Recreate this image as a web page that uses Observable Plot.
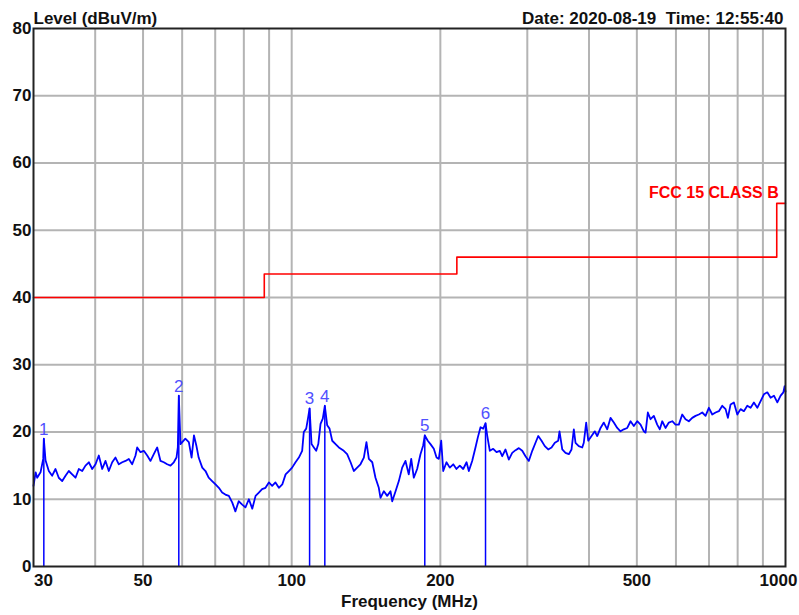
<!DOCTYPE html>
<html><head><meta charset="utf-8">
<script src="https://cdn.jsdelivr.net/npm/d3@7"></script>
<script src="https://cdn.jsdelivr.net/npm/@observablehq/plot@0.6"></script>
<style>body{margin:0;background:#fff;} svg{display:block}</style>
</head><body><div id="chart"></div>
<script>
// Measured trace (MHz, dBuV/m)
const freq = [
30.0,30.3,30.52,31.0,31.39,31.48,31.73,32.22,32.73,33.24,33.75,34.30,34.83,35.37,35.93,36.49,37.06,37.65,38.23,38.83,39.45,40.06,40.68,41.33,41.97,42.62,43.30,43.97,44.66,45.37,46.07,46.79,47.53,48.27,48.65,49.41,50.18,50.98,51.77,52.57,53.41,54.24,55.08,55.96,56.83,57.71,58.44,58.80,59.07,59.54,
60.9,61.9,62.7,63.4,64.1,64.8,65.9,66.9,67.9,69.0,70.1,71.2,72.3,73.4,74.6,75.8,76.9,78.1,79.4,80.6,81.9,83.2,84.5,85.8,87.1,88.5,89.9,91.3,92.7,94.2,95.7,97.2,98.7,100.2,101.8,103.4,105.0,105.8,107.0,108.0,108.7,109.7,110.9,112.1,113.2,114.4,115.6,116.7,118.0,119.3,120.8,122.7,124.6,
127.5,129.5,131.6,133.6,135.7,137.8,140.0,141.7,143.3,145.6,147.8,150.1,151.3,153.7,156.1,158.5,159.8,162.3,164.8,167.4,170.0,172.6,174.6,176.7,179.5,182.3,184.6,186.0,188.6,191.0,194.0,196.5,198.6,200.8,202.7,205.8,209.0,212.4,215.6,219.0,222.5,226.0,228.4,232.0,235.6,238.2,241.2,244.3,246.9,248.8,251.9,255.9,259.9,263.9,
266.9,271.0,275.2,279.6,284.0,288.4,293.0,297.5,302.1,307.0,311.7,315.7,320.6,325.5,330.7,335.9,341.1,346.5,348.6,353.1,358.5,364.1,368.7,372.7,375.6,381.4,387.6,390.4,394.8,398.6,404.8,411.0,415.6,422.1,428.6,435.5,442.2,449.1,456.3,463.3,470.5,478.1,485.5,493.0,500.9,508.7,516.6,
520.7,526.3,532.9,541.2,549.8,556.5,562.8,571.5,580.4,589.7,598.8,608.1,617.8,627.4,637.1,647.3,657.4,667.6,678.3,688.8,699.5,710.7,721.7,733.0,744.7,756.3,764.4,774.1,786.1,798.7,811.0,823.6,836.8,849.8,863.0,876.8,890.4,904.2,918.7,933.0,947.5,962.6,977.6,990.0,995.9,1000
];
const level = [
12.0,14.0,13.2,14.0,16.0,19.0,15.8,14.2,13.5,14.5,13.2,12.7,13.5,14.2,13.7,13.2,14.5,14.2,15.0,15.5,14.5,15.2,16.5,14.5,15.7,14.2,15.5,16.2,15.2,15.5,15.7,16.0,15.2,16.5,17.7,17.0,17.2,16.5,15.7,16.7,17.7,15.7,15.5,15.2,15.0,15.5,16.2,17.7,25.4,18.2,
19.0,18.5,16.2,19.5,18.0,16.2,14.7,14.2,13.2,12.7,12.2,11.7,11.0,10.7,10.5,9.5,8.2,9.7,9.2,8.8,10.0,8.6,10.5,11.0,11.5,11.7,12.5,12.0,12.5,11.7,12.2,13.7,14.2,14.7,15.5,16.2,17.2,20.0,20.5,22.2,23.5,18.2,17.7,17.2,18.2,21.2,22.0,23.9,21.0,20.5,18.7,18.2,17.7,
17.2,16.7,15.5,14.2,14.7,15.2,16.2,18.5,16.0,15.5,13.2,11.7,10.2,11.2,10.5,11.2,9.7,11.2,12.7,14.7,15.7,13.7,16.0,13.2,14.5,16.7,18.0,19.5,18.7,18.2,17.5,16.2,16.0,18.7,14.2,15.5,14.7,15.2,14.5,15.0,14.5,15.5,14.2,15.7,17.7,19.2,20.7,20.5,21.3,19.5,17.2,17.5,17.0,17.2,
16.4,17.4,15.9,16.9,17.3,17.6,17.2,16.4,15.7,17.2,18.4,19.4,18.7,17.9,17.4,17.7,18.4,18.7,20.1,17.4,16.9,16.7,17.4,20.4,18.4,17.9,17.7,18.4,21.4,18.7,19.4,20.1,19.4,20.6,21.4,20.4,22.1,21.4,20.6,20.1,20.4,20.6,21.6,20.9,21.6,21.1,20.1,
19.9,22.9,21.9,22.4,21.1,20.4,21.6,20.6,21.4,21.6,21.1,21.1,22.6,21.9,21.6,22.1,22.4,22.6,22.9,22.4,23.6,22.6,22.9,23.1,23.9,23.4,22.1,24.1,24.4,22.6,23.4,23.1,23.9,23.6,24.4,23.6,24.6,25.6,25.9,25.1,25.4,24.4,25.4,25.9,26.8,26.0
];
// Markers
const markerFreq = [31.48, 59.07, 108.7, 116.7, 186.0, 246.9];
const markerLevel = [19.0, 25.4, 23.5, 23.9, 19.5, 21.3];
const markerLabel = ["1", "2", "3", "4", "5", "6"];
// FCC 15 Class B limit
const limitFreq = [30, 88, 88, 216, 216, 960, 960, 1000];
const limitLevel = [40, 40, 43.5, 43.5, 46, 46, 54, 54];
const limitName = "FCC 15 CLASS B";
// Ticks
const xGridTicks = [40, 50, 60, 70, 80, 90, 100, 200, 300, 400, 500, 600, 700, 800, 900];
const yGridTicks = [10, 20, 30, 40, 50, 60, 70];
const yTicks = [0, 10, 20, 30, 40, 50, 60, 70, 80];
const xTickFirst = [30];
const xTickMid = [50, 100, 200, 500];
const xTickLast = [1000];

const trace = freq.map((f, i) => ({f, v: level[i]}));
const markers = markerFreq.map((f, i) => ({f, v: markerLevel[i], label: markerLabel[i]}));
const limit = limitFreq.map((f, i) => ({f, v: limitLevel[i]}));

const font = "'Liberation Sans', Arial, sans-serif";
const lab = {fontSize: 17, fontWeight: "bold", fill: "#111"};

const chart = Plot.plot({
  width: 799, height: 615,
  marginLeft: 33, marginRight: 14, marginTop: 28, marginBottom: 49,
  style: {fontFamily: font, background: "#fff"},
  x: {type: "log", domain: [30, 1000], axis: null},
  y: {domain: [0, 80], axis: null},
  marks: [
    Plot.gridX(xGridTicks, {stroke: "#b4b4b4", strokeOpacity: 1, strokeWidth: 2}),
    Plot.gridY(yGridTicks, {stroke: "#b4b4b4", strokeOpacity: 1, strokeWidth: 2}),
    Plot.line(limit, {x: "f", y: "v", stroke: "#ff0000", strokeWidth: 1.6}),
    Plot.ruleX(markers, {x: "f", y1: 0, y2: "v", stroke: "#0000ff", strokeWidth: 1.5}),
    Plot.line(trace, {x: "f", y: "v", stroke: "#0000ff", strokeWidth: 1.8}),
    Plot.text(markers, {x: "f", y: "v", text: "label", dy: -4, lineAnchor: "bottom", fill: "#5050ff", fontSize: 17}),
    Plot.text([limitName], {x: 960, y: 54, dx: 2, dy: -5, textAnchor: "end", lineAnchor: "bottom", fill: "#ff0000", fontSize: 16, fontWeight: "bold"}),
    Plot.frame({stroke: "#222", strokeWidth: 2}),
    Plot.axisY(yTicks, {tickSize: 0, tickPadding: 2, label: null, ...lab}),
    Plot.text(xTickFirst, {x: d => d, text: d => String(d), frameAnchor: "bottom", dy: 7, dx: 10, lineAnchor: "top", ...lab}),
    Plot.text(xTickMid, {x: d => d, text: d => String(d), frameAnchor: "bottom", dy: 7, lineAnchor: "top", ...lab}),
    Plot.text(xTickLast, {x: d => d, text: d => String(d), frameAnchor: "bottom", dy: 7, dx: -7, lineAnchor: "top", ...lab}),
    Plot.text(["Level (dBuV/m)"], {frameAnchor: "top-left", dy: -5, lineAnchor: "bottom", textAnchor: "start", ...lab}),
    Plot.text(["Date: 2020-08-19  Time: 12:55:40"], {frameAnchor: "top-right", dx: -2, dy: -5, lineAnchor: "bottom", textAnchor: "end", ...lab}),
    Plot.text(["Frequency (MHz)"], {frameAnchor: "bottom", dy: 40, lineAnchor: "bottom", ...lab})
  ]
});
document.getElementById("chart").appendChild(chart);
</script>
</body></html>
